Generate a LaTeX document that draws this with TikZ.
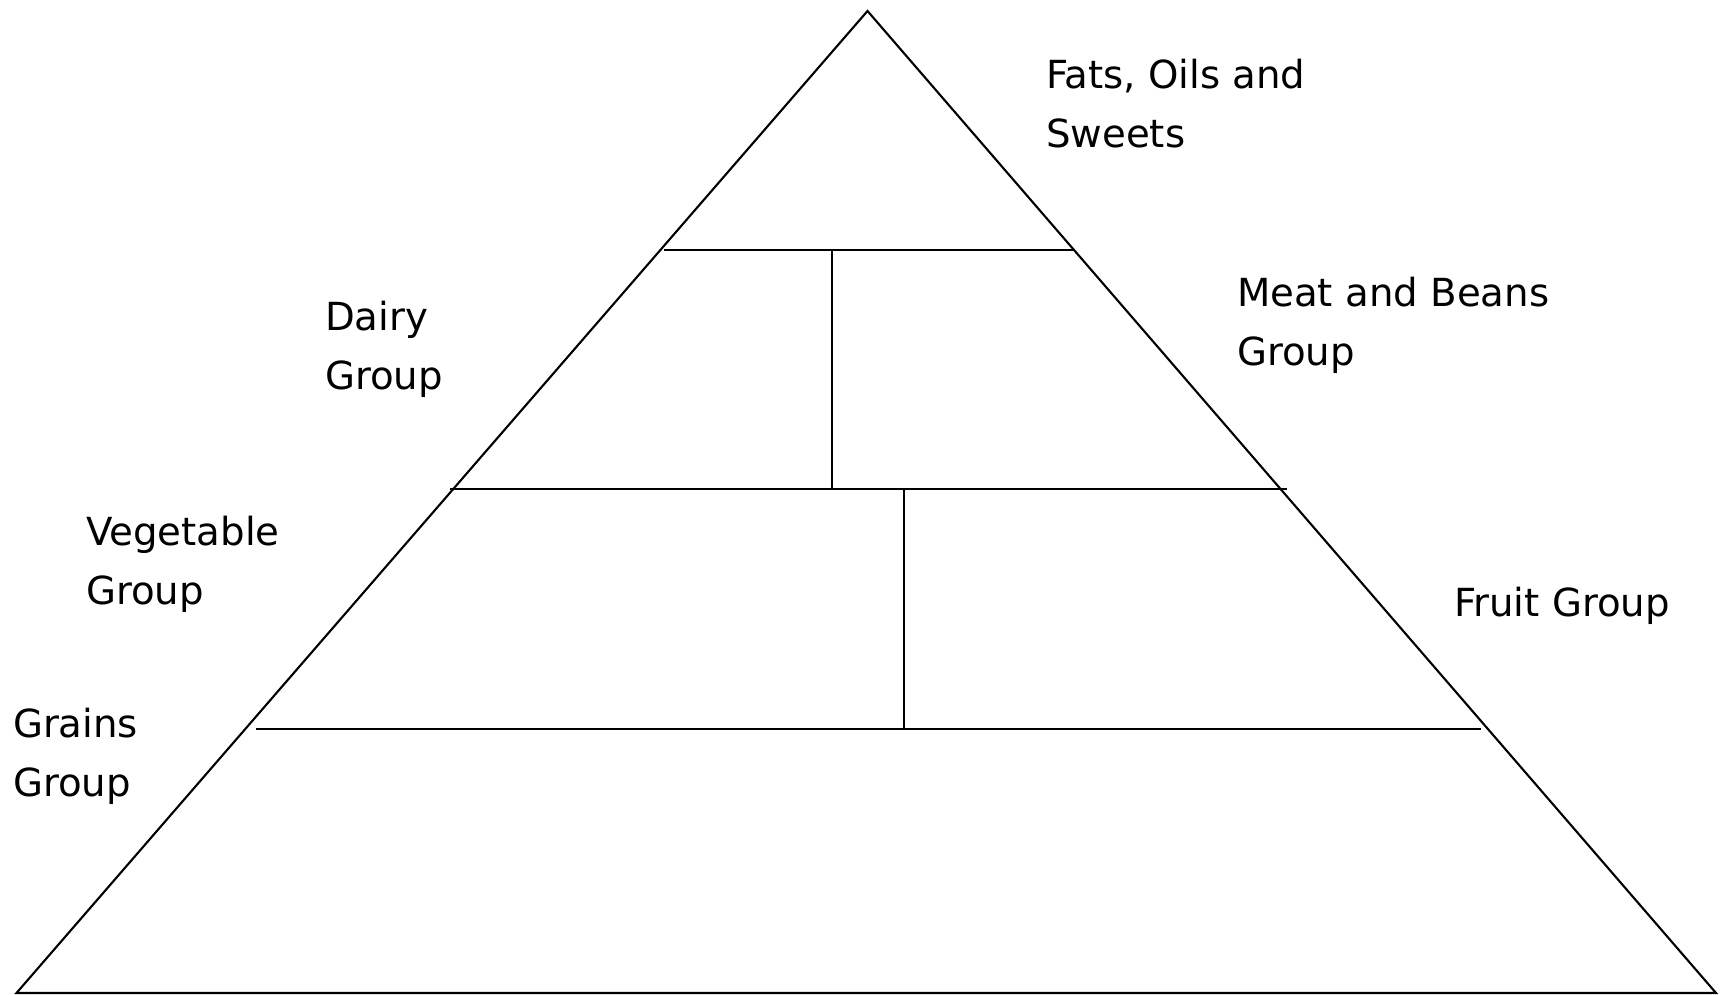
\documentclass[tikz,border=0pt]{standalone}
\usepackage{fontspec}
\setmainfont{DejaVu Sans}
\usepackage{tikz}
\usetikzlibrary{positioning}

\begin{document}
\begin{tikzpicture}[x=0.01cm,y=-0.01cm,line width=0.6pt,
  every node/.style={inner sep=0pt,anchor=base west,align=left,
    font=\fontsize{11}{16.9}\selectfont}]
\useasboundingbox (0,0) rectangle (1724,995);
% pyramid corners
\coordinate (top) at (867.5,11);
\coordinate (bl) at (16.5,993);
\coordinate (br) at (1716,993);
\draw (top) -- (bl) -- (br) -- cycle;
% tiers
\coordinate (t1l) at (664,249.7);  \coordinate (t1r) at (1073,249.7);
\coordinate (t2l) at (450,489);    \coordinate (t2r) at (1287,489);
\coordinate (t3l) at (256,729);    \coordinate (t3r) at (1481,729);
\coordinate (v1) at (832,249.7);   \coordinate (v1b) at (832,489);
\coordinate (v2) at (904,489);     \coordinate (v2b) at (904,729);
\draw (t1l) -- (t1r);
\draw (t2l) -- (t2r);
\draw (t3l) -- (t3r);
\draw (v1) -- (v1b);
\draw (v2) -- (v2b);
% labels (base = last line)
\node (fats)  at (1045,147.5) {Fats, Oils and\\Sweets};
\node (meat)  at (1236,365.5) {Meat and Beans\\Group};
\node (dairy) at (324,389.5)  {Dairy\\Group};
\node (veg)   at (85,604.5)   {Vegetable\\Group};
\node (fruit) at (1453,617)   {Fruit Group};
\node (grain) at (12,796.5)   {Grains\\Group};
\end{tikzpicture}
\end{document}
